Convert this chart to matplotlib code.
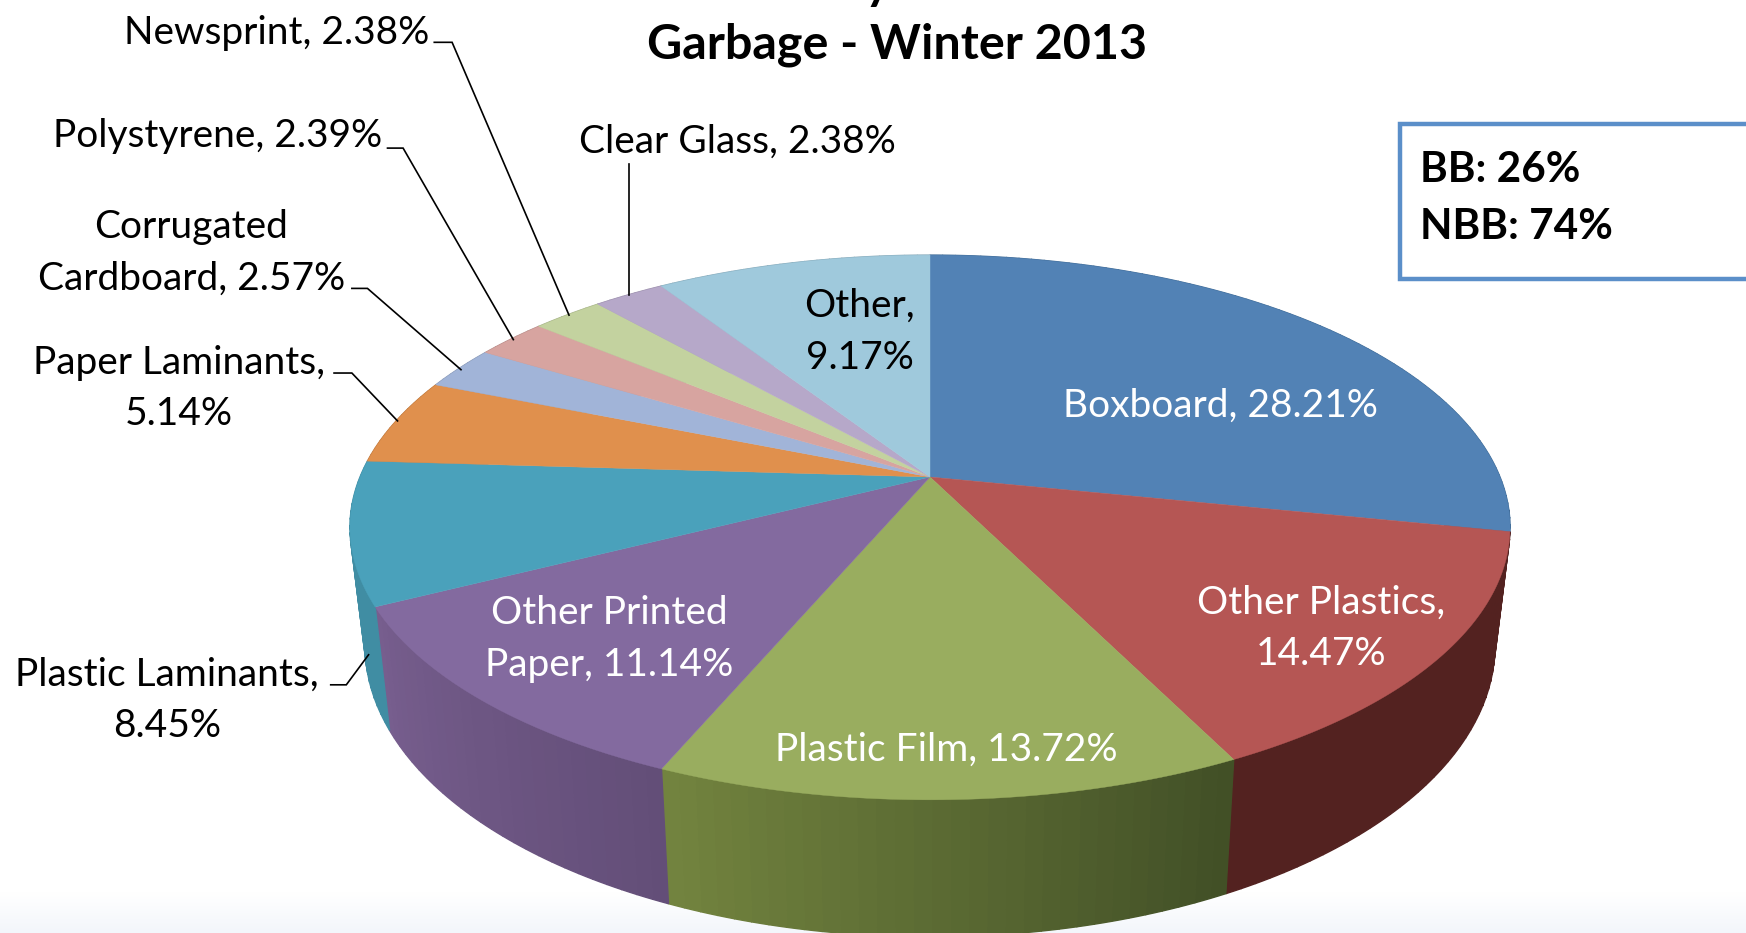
import numpy as np
import matplotlib
matplotlib.use("Agg")
import matplotlib.pyplot as plt
from matplotlib.colors import to_rgb, LinearSegmentedColormap

categories = ["Boxboard", "Other Plastics", "Plastic Film", "Other Printed Paper",
              "Plastic Laminants", "Paper Laminants", "Corrugated Cardboard",
              "Polystyrene", "Newsprint", "Clear Glass", "Other"]
values = [28.21, 14.47, 13.72, 11.14, 8.45, 5.14, 2.57, 2.39, 2.38, 2.38, 9.17]
top_colors = ["#5282b5", "#b55654", "#99ad5f", "#836a9f", "#4aa1bb", "#e0904d",
              "#a1b4d8", "#d7a4a0", "#c3d29f", "#b6a8c9", "#9fc9dc"]
side_left = ["#3f6a94", "#532220", "#73843f", "#775e8e", "#408da3", "#b87338",
             "#8494b2", "#b08683", "#a0ad82", "#9589a5", "#82a5b5"]
side_right = ["#3f6a94", "#532220", "#414f26", "#634e78", "#408da3", "#b87338",
              "#8494b2", "#b08683", "#a0ad82", "#9589a5", "#82a5b5"]

S = 1746 / 1568
CX, CY = 930.0, 477.0
A, B, P = 570.0, 263.0, 0.1853


def rim(theta):
    u, v = np.sin(theta), np.cos(theta)
    w = 1 + P * v
    return CX + A * u / w, CY - B * v / w


def lower(x, y):
    return CX + (x - CX) * 0.974, y * 1.07 + 81


fig = plt.figure(figsize=(17.46, 9.33), dpi=100)
ax = fig.add_axes([0, 0, 1, 1])
ax.axis("off")

# pale background fade at the foot of the slide
fade = LinearSegmentedColormap.from_list("fade", ["#ffffff", "#ffffff", "#f3f6fb"])
ax.imshow(np.linspace(0, 1, 80)[:, None], extent=(0, 1746, 933, 853), cmap=fade,
          aspect="auto", zorder=0, interpolation="bilinear")
ax.set_xlim(0, 1746)
ax.set_ylim(933, 0)

edges = np.cumsum([0] + values) / sum(values) * 2 * np.pi

# sides first, then the upper faces
for i in range(len(values)):
    a0, a1 = edges[i], edges[i + 1]
    n = max(2, int(np.degrees(a1 - a0) / 1.5))
    t = np.linspace(a0, a1, n + 1)
    c_left, c_right = np.array(to_rgb(side_left[i])), np.array(to_rgb(side_right[i]))
    for k in range(n):
        # angles run clockwise, so at the front the slice starts at its right-hand end
        f = (k + 0.5) / n
        col = c_right * (1 - f) + c_left * f
        tt = np.linspace(t[k], t[k + 1], 3)
        x, y = rim(tt)
        xb, yb = lower(x, y)
        ax.fill(np.r_[x, xb[::-1]], np.r_[y, yb[::-1]], color=col, lw=1.0, zorder=2)

for i in range(len(values)):
    t = np.linspace(edges[i], edges[i + 1], 120)
    x, y = rim(t)
    ax.fill(np.r_[CX, x], np.r_[CY, y], color=top_colors[i], lw=0.3, zorder=3)

FONT = "Lato"
FS = 28
LS = 1.53
DY = 2


def label(x, y, s, color="black"):
    ax.text(x * S, (y + DY) * S, s, ha="center", va="center", fontsize=FS, color=color,
            family=FONT, linespacing=LS, zorder=5)


label(248.5, 28, "Newsprint, 2.38%")
label(195, 120, "Polystyrene, 2.39%")
label(662, 125, "Clear Glass, 2.38%")
label(172, 225, "Corrugated\nCardboard, 2.57%")
label(161, 347, "Paper Laminants,\n5.14%")
label(150, 627, "Plastic Laminants,\n8.45%")
label(1096, 362, "Boxboard, 28.21%", "white")
label(1186, 562, "Other Plastics,\n14.47%", "white")
label(850, 671, "Plastic Film, 13.72%", "white")
label(547, 572, "Other Printed\nPaper, 11.14%", "white")
label(772, 296, "Other,\n9.17%", "black")

leaders = [
    [(390, 38), (406, 38), (511, 283)],
    [(348, 133), (362, 133), (461, 305)],
    [(316, 259), (330, 259), (414, 332)],
    [(300, 335), (316, 335), (357, 378)],
    [(297, 615), (311, 615), (331, 588)],
    [(565, 147), (565, 265)],
]
for pts in leaders:
    xs, ys = zip(*pts)
    ax.plot(np.array(xs) * S, np.array(ys) * S, color="black", lw=1.2, zorder=4,
            solid_joinstyle="miter")

ax.text(806 * S, 40 * S, "Garbage - Winter 2013", ha="center", va="center",
        fontsize=34.9, fontweight="bold", family=FONT, zorder=5)
# only the tail of the cut-off first title line shows in the reference
ax.text(788 * S, -15, "y", ha="center", va="center", fontsize=34.9, fontweight="bold",
        family=FONT, zorder=5)

ax.plot(np.array([1600, 1257, 1257, 1600]) * S, np.array([111, 111, 251, 251]) * S,
        color="#5b8fc9", lw=3.2, zorder=4, solid_joinstyle="miter")
ax.text(1275 * S, 153 * S, "BB: 26%", ha="left", va="center", fontsize=30.4,
        fontweight="bold", family=FONT, zorder=5)
ax.text(1275 * S, 204 * S, "NBB: 74%", ha="left", va="center", fontsize=30.4,
        fontweight="bold", family=FONT, zorder=5)

fig.savefig("out.png", dpi=100, facecolor="white")
